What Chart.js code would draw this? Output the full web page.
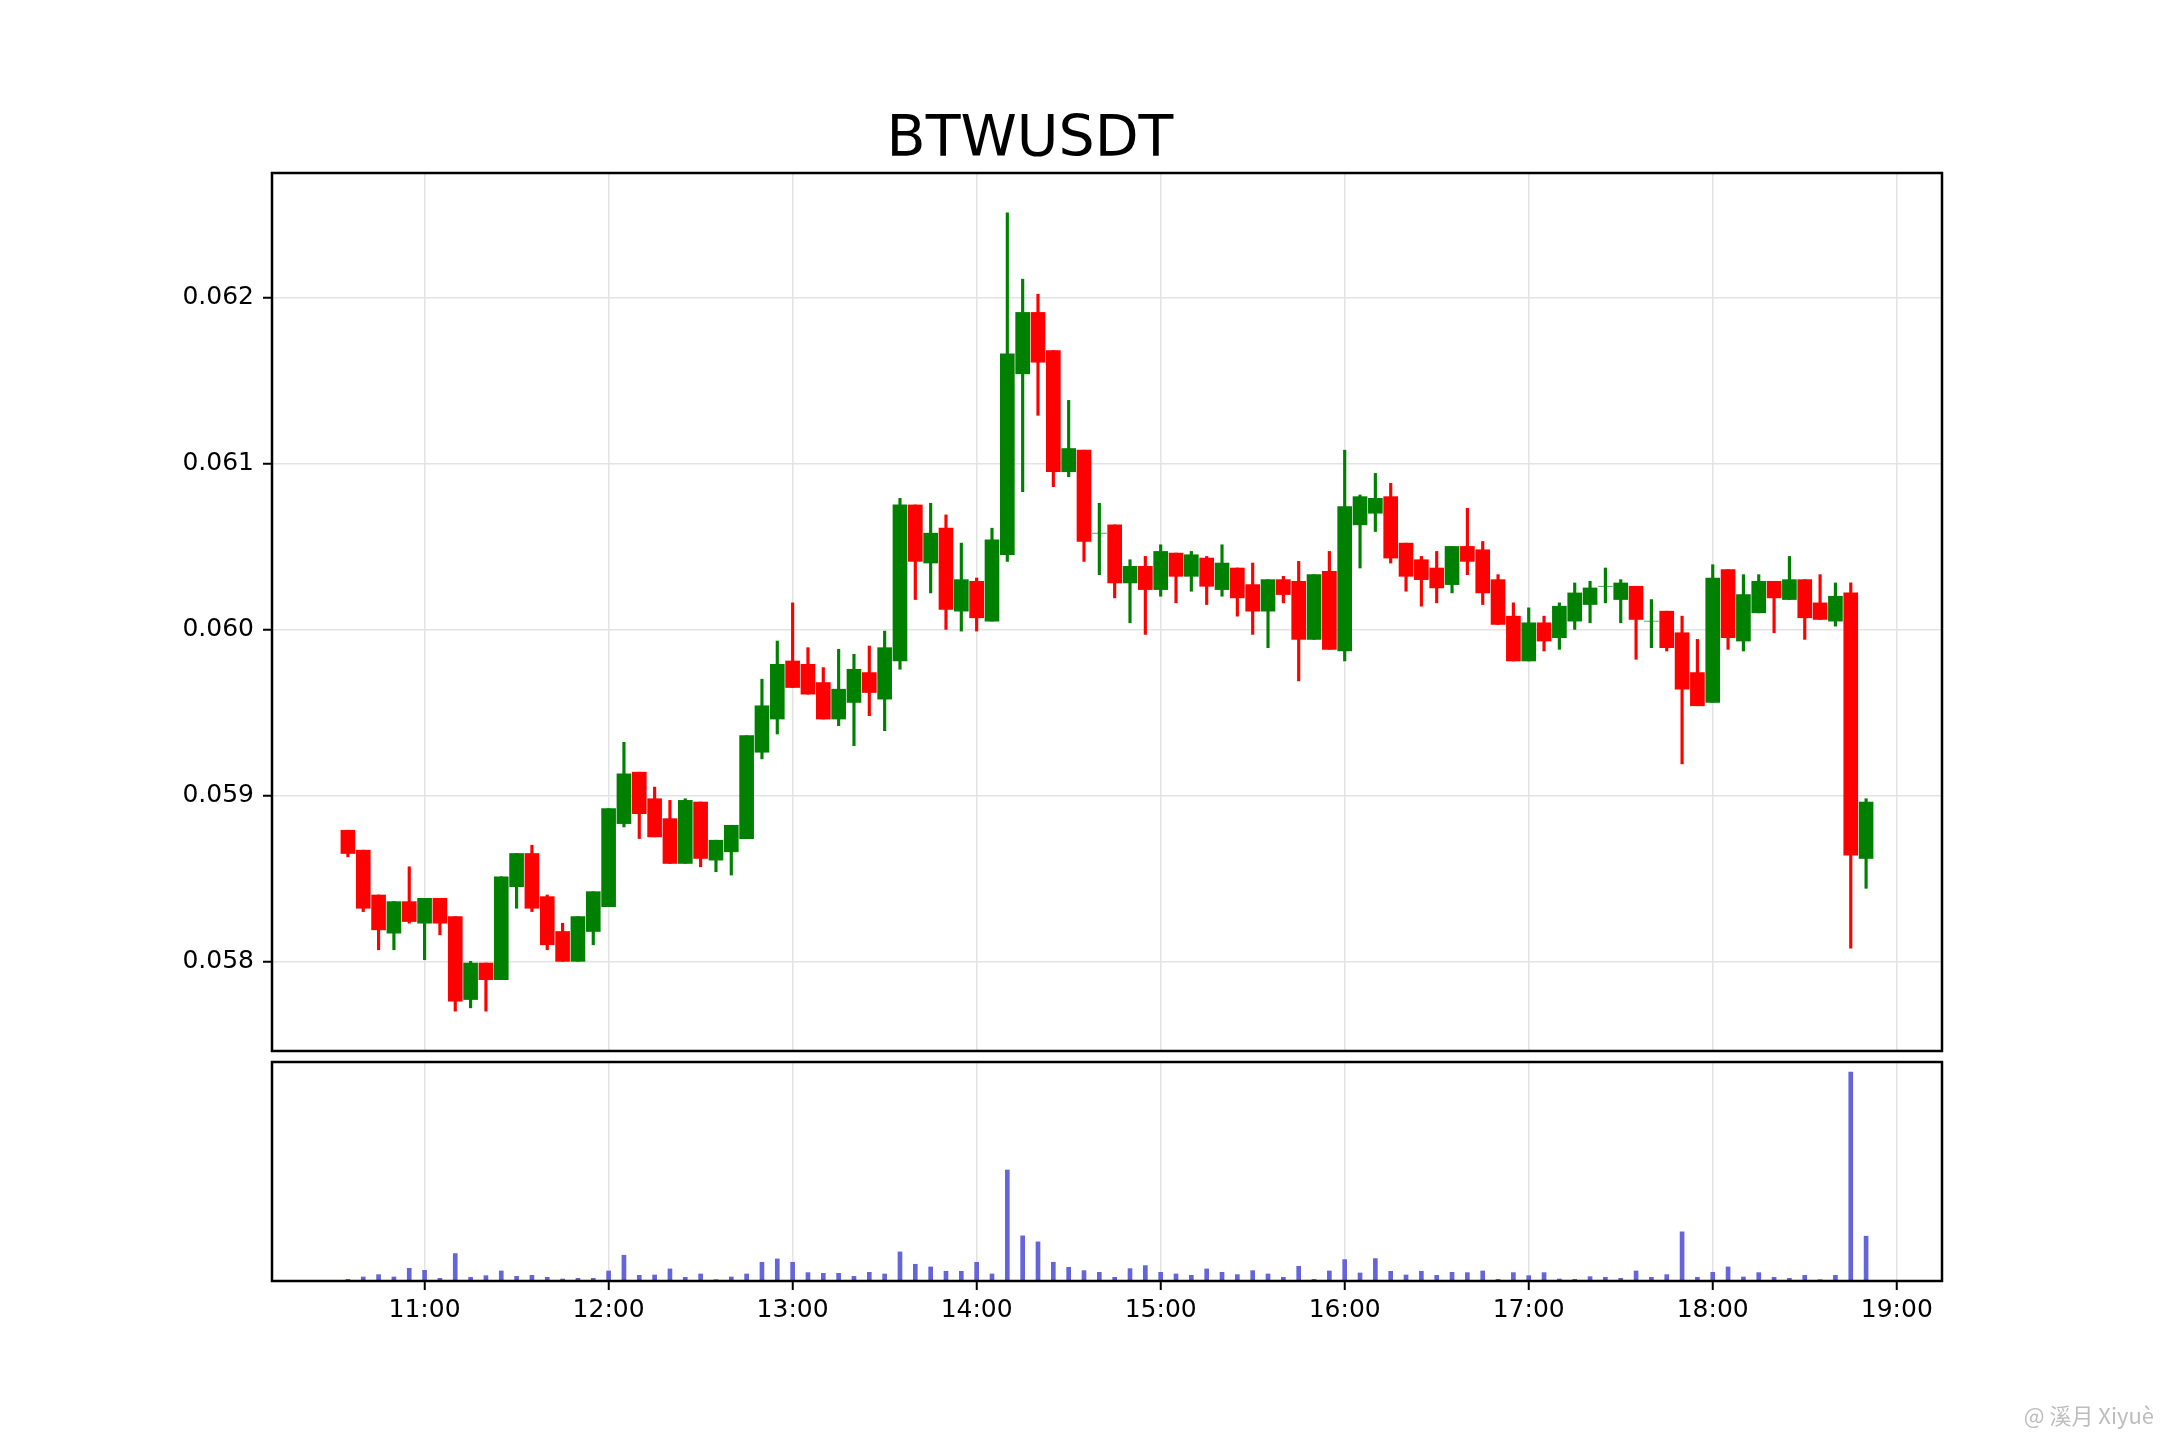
<!DOCTYPE html>
<html>
<head>
<meta charset="utf-8">
<script src="https://cdn.jsdelivr.net/npm/chart.js@4.4.1/dist/chart.umd.min.js"></script>
<style>
  html, body { margin: 0; padding: 0; background: #ffffff; }
  body { width: 2160px; height: 1440px; position: relative; overflow: hidden; font-family: 'DejaVu Sans', sans-serif; }
  canvas { position: absolute; left: 0; top: 0; }
  #title { position: absolute; left: 0; width: 2060px; top: 108px; text-align: center; font-size: 57px; line-height: 57px; color: #000; }
  #mark { position: absolute; right: 6px; bottom: 10px; font-size: 22px; color: #bdbdbd; font-family: 'Noto Sans CJK SC', sans-serif; }
</style>
</head>
<body>
<div id="title">BTWUSDT</div>
<canvas id="priceChart" width="2160" height="1440"></canvas>
<canvas id="volumeChart" width="2160" height="1440"></canvas>
<div id="mark">@ 溪月 Xiyuè</div>
<script>
// 5-minute candles, 10:35 -> 18:50
const times = [
  '10:35','10:40','10:45','10:50','10:55',
  '11:00','11:05','11:10','11:15','11:20','11:25','11:30','11:35','11:40','11:45','11:50','11:55',
  '12:00','12:05','12:10','12:15','12:20','12:25','12:30','12:35','12:40','12:45','12:50','12:55',
  '13:00','13:05','13:10','13:15','13:20','13:25','13:30','13:35','13:40','13:45','13:50','13:55',
  '14:00','14:05','14:10','14:15','14:20','14:25','14:30','14:35','14:40','14:45','14:50','14:55',
  '15:00','15:05','15:10','15:15','15:20','15:25','15:30','15:35','15:40','15:45','15:50','15:55',
  '16:00','16:05','16:10','16:15','16:20','16:25','16:30','16:35','16:40','16:45','16:50','16:55',
  '17:00','17:05','17:10','17:15','17:20','17:25','17:30','17:35','17:40','17:45','17:50','17:55',
  '18:00','18:05','18:10','18:15','18:20','18:25','18:30','18:35','18:40','18:45','18:50'
];
const opens = [
  0.05879,0.05867,0.05840,0.05817,0.05836,
  0.05823,0.05838,0.05827,0.05777,0.05799,0.05789,0.05845,0.05865,0.05839,0.05818,0.05800,0.05818,
  0.05833,0.05883,0.05914,0.05898,0.05886,0.05859,0.05896,0.05861,0.05866,0.05874,0.05926,0.05946,
  0.05981,0.05979,0.05968,0.05946,0.05956,0.05974,0.05958,0.05981,0.06075,0.06040,0.06061,0.06011,
  0.06029,0.06005,0.06045,0.06154,0.06191,0.06168,0.06095,0.06108,0.06058,0.06063,0.06028,0.06038,
  0.06024,0.06046,0.06032,0.06043,0.06024,0.06037,0.06027,0.06011,0.06030,0.06029,0.05994,0.06035,
  0.05987,0.06063,0.06070,0.06080,0.06052,0.06042,0.06037,0.06027,0.06050,0.06048,0.06030,0.06008,
  0.05981,0.06004,0.05995,0.06005,0.06015,0.06026,0.06018,0.06026,0.06005,0.06011,0.05998,0.05974,
  0.05956,0.06036,0.05993,0.06010,0.06029,0.06018,0.06030,0.06016,0.06005,0.06022,0.05862
];
const highs = [
  0.05879,0.05867,0.05840,0.05836,0.05857,
  0.05838,0.05838,0.05827,0.05800,0.05799,0.05851,0.05865,0.05870,0.05840,0.05823,0.05827,0.05842,
  0.05892,0.05932,0.05914,0.05905,0.05897,0.05898,0.05896,0.05873,0.05882,0.05936,0.05970,0.05993,
  0.06016,0.05989,0.05977,0.05988,0.05985,0.05990,0.05999,0.06079,0.06075,0.06076,0.06069,0.06052,
  0.06031,0.06061,0.06251,0.06211,0.06202,0.06168,0.06138,0.06108,0.06076,0.06063,0.06042,0.06044,
  0.06051,0.06046,0.06047,0.06044,0.06051,0.06037,0.06040,0.06030,0.06032,0.06041,0.06033,0.06047,
  0.06108,0.06081,0.06094,0.06088,0.06052,0.06044,0.06047,0.06050,0.06073,0.06053,0.06033,0.06016,
  0.06013,0.06008,0.06016,0.06028,0.06029,0.06037,0.06030,0.06026,0.06018,0.06011,0.06008,0.05994,
  0.06039,0.06036,0.06033,0.06033,0.06029,0.06044,0.06030,0.06033,0.06028,0.06028,0.05898
];
const lows = [
  0.05863,0.05830,0.05807,0.05807,0.05823,
  0.05801,0.05816,0.05770,0.05772,0.05770,0.05789,0.05832,0.05830,0.05807,0.05800,0.05800,0.05810,
  0.05833,0.05881,0.05874,0.05875,0.05859,0.05859,0.05857,0.05854,0.05852,0.05874,0.05922,0.05937,
  0.05965,0.05961,0.05946,0.05942,0.05930,0.05948,0.05939,0.05976,0.06018,0.06022,0.06000,0.05999,
  0.05999,0.06005,0.06041,0.06083,0.06129,0.06086,0.06092,0.06041,0.06033,0.06019,0.06004,0.05997,
  0.06020,0.06016,0.06023,0.06015,0.06020,0.06008,0.05997,0.05989,0.06016,0.05969,0.05994,0.05988,
  0.05981,0.06037,0.06059,0.06040,0.06023,0.06014,0.06016,0.06022,0.06033,0.06015,0.06003,0.05981,
  0.05981,0.05987,0.05988,0.06000,0.06004,0.06016,0.06004,0.05982,0.05989,0.05987,0.05919,0.05954,
  0.05956,0.05988,0.05987,0.06010,0.05998,0.06018,0.05994,0.06006,0.06002,0.05808,0.05844
];
const closes = [
  0.05865,0.05832,0.05819,0.05836,0.05824,
  0.05838,0.05823,0.05776,0.05799,0.05789,0.05851,0.05865,0.05832,0.05810,0.05800,0.05827,0.05842,
  0.05892,0.05913,0.05889,0.05875,0.05859,0.05897,0.05862,0.05873,0.05882,0.05936,0.05954,0.05979,
  0.05965,0.05961,0.05946,0.05964,0.05976,0.05962,0.05989,0.06075,0.06041,0.06058,0.06012,0.06030,
  0.06007,0.06054,0.06166,0.06191,0.06161,0.06095,0.06109,0.06053,0.06058,0.06028,0.06038,0.06024,
  0.06047,0.06032,0.06045,0.06026,0.06040,0.06019,0.06011,0.06030,0.06021,0.05994,0.06033,0.05988,
  0.06074,0.06080,0.06079,0.06043,0.06032,0.06030,0.06025,0.06050,0.06041,0.06022,0.06003,0.05981,
  0.06004,0.05993,0.06014,0.06022,0.06025,0.06026,0.06028,0.06006,0.06005,0.05989,0.05964,0.05954,
  0.06031,0.05995,0.06021,0.06029,0.06019,0.06030,0.06007,0.06006,0.06020,0.05864,0.05896
];
const volumes = [
  5,12,19,12,38,
  32,8,82,11,16,30,14,17,11,6,8,8,
  30,77,17,18,36,11,21,4,12,21,56,66,
  56,25,23,23,14,26,21,87,50,42,29,29,
  56,21,332,135,117,56,41,31,26,11,37,46,
  26,21,17,36,26,19,31,21,11,44,5,30,
  64,24,67,29,18,29,17,26,25,30,5,25,
  16,25,6,5,13,11,8,30,11,19,147,11,
  26,42,12,25,11,8,17,4,17,625,134
];
const hourTicks = ['11:00','12:00','13:00','14:00','15:00','16:00','17:00','18:00','19:00'];
const priceTicks = [0.058, 0.059, 0.060, 0.061, 0.062];

const toMin = t => { const [h, m] = t.split(':').map(Number); return h * 60 + m; };
const xs = times.map(toMin);
const xMin = xs[0] - 24.75;
const xMax = xs[xs.length - 1] + 24.75;
const isUp = opens.map((o, i) => closes[i] >= o);
const candleColors = isUp.map(u => u ? '#008000' : '#ff0000');
const fmtTime = v => Math.floor(v / 60) + ':' + String(Math.round(v % 60)).padStart(2, '0');

const gridColor = '#e3e3e3';
const tickFont = { family: "'DejaVu Sans', sans-serif", size: 25 };
const plotLeft = 272, plotRight = 1942;

// draws the black box around a plot area
const framePlugin = {
    id: 'frame',
    afterDraw(chart) {
        const { ctx, chartArea: a } = chart;
        ctx.save();
        ctx.strokeStyle = '#000';
        ctx.lineWidth = 2.5;
        ctx.strokeRect(a.left, a.top, a.right - a.left, a.bottom - a.top);
        ctx.restore();
    }
};

const hourTickBuilder = scale => { scale.ticks = hourTicks.map(t => ({ value: toMin(t) })); };

// 1. Candles
new Chart(document.getElementById('priceChart'), {
    type: 'bar',
    data: {
        datasets: [
            {
                label: 'body',
                data: xs.map((x, i) => ({ x: x, y: [opens[i], closes[i]] })),
                backgroundColor: candleColors,
                barThickness: 14,
                grouped: false,
                order: 0
            },
            {
                label: 'wick',
                data: xs.map((x, i) => ({ x: x, y: [lows[i], highs[i]] })),
                backgroundColor: candleColors,
                barThickness: 2.5,
                grouped: false,
                order: 1
            }
        ]
    },
    options: {
        responsive: false,
        animation: false,
        devicePixelRatio: 1,
        layout: { padding: { left: 0, right: 2160 - plotRight, top: 173, bottom: 1440 - 1051 } },
        plugins: { legend: { display: false }, tooltip: { enabled: false } },
        scales: {
            x: {
                type: 'linear',
                min: xMin,
                max: xMax,
                offset: false,
                afterBuildTicks: hourTickBuilder,
                afterFit: s => { s.height = 0; },
                grid: { offset: false, color: gridColor, lineWidth: 1.5, drawTicks: false },
                border: { display: false },
                ticks: { display: false }
            },
            y: {
                min: 0.05746,
                max: 0.06275,
                afterBuildTicks: s => { s.ticks = priceTicks.map(v => ({ value: v })); },
                afterFit: s => { s.width = plotLeft; },
                grid: { color: gridColor, lineWidth: 1.5, tickColor: '#000', tickWidth: 2, tickLength: 9 },
                border: { display: false },
                ticks: { color: '#000', font: tickFont, padding: 9, callback: v => v.toFixed(3) }
            }
        }
    },
    plugins: [framePlugin]
});

// 2. Volume
new Chart(document.getElementById('volumeChart'), {
    type: 'bar',
    data: {
        datasets: [{
            label: 'volume',
            data: xs.map((x, i) => ({ x: x, y: volumes[i] })),
            backgroundColor: '#6464dc',
            barThickness: 4
        }]
    },
    options: {
        responsive: false,
        animation: false,
        devicePixelRatio: 1,
        layout: { padding: { left: plotLeft, right: 2160 - plotRight, top: 1062, bottom: 0 } },
        plugins: { legend: { display: false }, tooltip: { enabled: false } },
        scales: {
            x: {
                type: 'linear',
                min: xMin,
                max: xMax,
                offset: false,
                afterBuildTicks: hourTickBuilder,
                afterFit: s => { s.height = 1440 - 1281; },
                grid: { offset: false, color: gridColor, lineWidth: 1.5, tickColor: '#000', tickWidth: 2, tickLength: 9 },
                border: { display: false },
                ticks: { color: '#000', font: tickFont, padding: 5, maxRotation: 0, callback: v => fmtTime(v) }
            },
            y: {
                display: false,
                min: 0,
                max: 655
            }
        }
    },
    plugins: [framePlugin]
});
</script>
</body>
</html>
